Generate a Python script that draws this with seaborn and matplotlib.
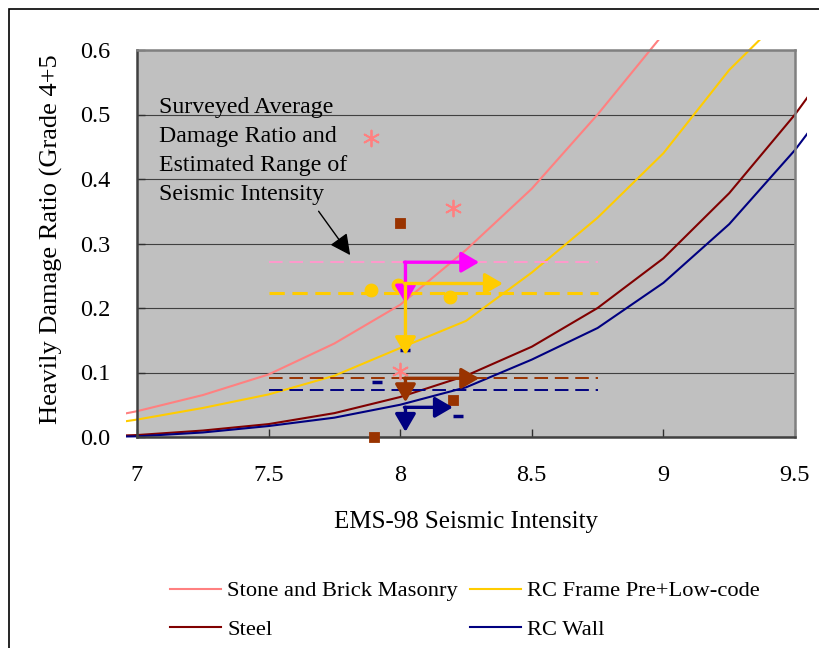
"""
EMS-98 fragility curves vs surveyed damage ratio - recreated chart
"""
import matplotlib
matplotlib.use('Agg')
import matplotlib.pyplot as plt
import seaborn as sns
import pandas as pd
from matplotlib.patches import Rectangle
from matplotlib.transforms import Bbox, TransformedBbox

# ---- data ----
intensity = [6.75, 7.0, 7.25, 7.5, 7.75, 8.0, 8.25, 8.5, 8.75, 9.0, 9.25, 9.5, 9.75]
masonry = [0.020, 0.040, 0.065, 0.097, 0.145, 0.205, 0.290, 0.385, 0.500, 0.625, 0.780, None, None]
rc_frame = [0.012, 0.027, 0.045, 0.066, 0.095, 0.138, 0.180, 0.255, 0.340, 0.440, 0.569, 0.670, None]
steel = [0.000, 0.003, 0.010, 0.020, 0.037, 0.062, 0.095, 0.140, 0.200, 0.277, 0.378, 0.500, 0.640]
rc_wall = [0.000, 0.001, 0.007, 0.017, 0.030, 0.050, 0.077, 0.120, 0.169, 0.239, 0.330, 0.445, 0.580]

curve_names = ['Stone and Brick Masonry', 'RC Frame Pre+Low-code', 'Steel', 'RC Wall']
curve_colors = ['#FF8080', '#FFCC00', '#800000', '#000080']

# surveyed average damage ratio (dashed) over the estimated intensity range
survey_range = [7.5, 8.75]
survey_avg = [0.271, 0.223, 0.091, 0.073]
survey_colors = ['#FF99CC', '#FFCC00', '#993300', '#000080']

# individual survey points
masonry_pts_x = [7.89, 8.20, 8.00]
masonry_pts_y = [0.464, 0.355, 0.102]
steel_pts_x = [8.00, 8.20, 7.90]
steel_pts_y = [0.332, 0.057, 0.000]
frame_pts_x = [7.89, 7.99, 8.19]
frame_pts_y = [0.228, 0.236, 0.217]
wall_pts_x = [7.91, 8.22, 8.02]
wall_pts_y = [0.085, 0.033, 0.135]

# estimated intensity arrows: corner level, right end, lower end
arrow_x0 = 8.02
arrow_level = [0.271, 0.238, 0.091, 0.046]
arrow_right = [8.30, 8.39, 8.30, 8.20]
arrow_down = [0.207, 0.127, 0.054, 0.008]
arrow_colors = ['#FF00FF', '#FFCC00', '#993300', '#000080']

x_ticks = [7, 7.5, 8, 8.5, 9, 9.5]
x_tick_labels = ['7', '7.5', '8', '8.5', '9', '9.5']
y_ticks = [0.0, 0.1, 0.2, 0.3, 0.4, 0.5, 0.6]

note_text = 'Surveyed Average\nDamage Ratio and\nEstimated Range of\nSeismic Intensity'

# ---- figure ----
plt.rcParams['font.family'] = ['Liberation Serif', 'DejaVu Serif']
fig = plt.figure(figsize=(8.2, 6.48), dpi=100)
ax = fig.add_axes([137 / 820, 1 - 437 / 648, 658 / 820, 387 / 648])
ax.set_facecolor('#C0C0C0')

# fragility curves
curves = pd.DataFrame({'x': intensity * 4,
                       'y': masonry + rc_frame + steel + rc_wall,
                       'type': sum([[n] * len(intensity) for n in curve_names], [])}).dropna()
for name, color in zip(curve_names, curve_colors):
    sub = curves[curves['type'] == name]
    sns.lineplot(data=sub, x='x', y='y', color=color, linewidth=1.5, ax=ax,
                 estimator=None, sort=False, legend=False)
curve_lines = list(ax.lines)
clip = TransformedBbox(Bbox([[-0.017, -0.05], [1.018, 1.026]]), ax.transAxes)
for ln in curve_lines:
    ln.set_clip_box(clip)

# dashed surveyed averages
for level, color in zip(survey_avg, survey_colors):
    lw = 2.2 if color == '#FFCC00' else 1.4
    sns.lineplot(x=survey_range, y=[level, level], color=color, linewidth=lw,
                 linestyle=(0, (7, 3.5)) if lw < 2 else (0, (5, 2.5)),
                 estimator=None, sort=False, legend=False, ax=ax)

# survey points
sns.scatterplot(x=masonry_pts_x, y=masonry_pts_y, marker=(6, 2, 0), s=130,
                color='#FF8080', edgecolor='#FF8080', linewidth=1.3, ax=ax, zorder=4)
sns.scatterplot(x=steel_pts_x, y=steel_pts_y, marker='s', s=55,
                color='#993300', edgecolor='#993300', ax=ax, zorder=4, clip_on=False)
sns.scatterplot(x=frame_pts_x, y=frame_pts_y, marker='o', s=85,
                color='#FFCC00', edgecolor='#FFCC00', ax=ax, zorder=4)
sns.scatterplot(x=wall_pts_x, y=wall_pts_y, marker='_', s=60,
                color='#000080', edgecolor='#000080', linewidth=2.5, ax=ax, zorder=4)

# intensity range arrows
astyle = '-|>,head_length=0.6,head_width=0.35'
for lev, xr, yd, color in zip(arrow_level, arrow_right, arrow_down, arrow_colors):
    ax.annotate('', xy=(arrow_x0, yd), xytext=(arrow_x0, lev),
                arrowprops=dict(arrowstyle=astyle, color=color, lw=2.4,
                                mutation_scale=18, shrinkA=0, shrinkB=0), zorder=5)
    ax.annotate('', xy=(xr, lev), xytext=(arrow_x0 - 0.004, lev),
                arrowprops=dict(arrowstyle=astyle, color=color, lw=2.4,
                                mutation_scale=18, shrinkA=0, shrinkB=0), zorder=5)

# note with pointer
ax.text(7.085, 0.527, note_text, fontsize=17.2, va='top', ha='left', linespacing=1.5)
ax.annotate('', xy=(7.81, 0.282), xytext=(7.69, 0.350),
            arrowprops=dict(arrowstyle='-|>,head_length=0.7,head_width=0.35',
                            color='black', lw=1.0, mutation_scale=18,
                            shrinkA=0, shrinkB=0))

# axes styling
ax.set_xlim(7, 9.5)
ax.set_ylim(0, 0.6)
ax.set_xticks(x_ticks)
ax.set_xticklabels(x_tick_labels)
ax.set_yticks(y_ticks)
ax.set_yticklabels([f'{v:.1f}' for v in y_ticks])
ax.tick_params(axis='both', direction='in', length=6, width=1, colors='#303030',
               labelsize=17.5, labelcolor='black')
ax.tick_params(axis='y', pad=19)
ax.tick_params(axis='x', pad=20)
ax.grid(axis='y', color='#404040', linewidth=0.8)
ax.set_axisbelow(True)
for side in ['left', 'bottom']:
    ax.spines[side].set_color('#404040')
    ax.spines[side].set_linewidth(1.8)
for side in ['top', 'right']:
    ax.spines[side].set_color('#808080')
    ax.spines[side].set_linewidth(1.8)

ax.set_xlabel('EMS-98 Seismic Intensity', fontsize=18)
ax.xaxis.set_label_coords(0.5, -0.19)
ax.set_ylabel('Heavily Damage Ratio (Grade 4+5', fontsize=19)
ax.yaxis.set_label_coords(-0.112, 0.51)

# legend filled column by column -> rows read Masonry/RC Frame, Steel/RC Wall
order = [0, 2, 1, 3]
fig.legend([curve_lines[i] for i in order], [curve_names[i] for i in order],
           ncol=2, loc='center', frameon=False,
           bbox_to_anchor=(0.567, 0.058), fontsize=16.2, handlelength=2.25,
           handletextpad=0.27, columnspacing=0.54, labelspacing=0.8,
           borderpad=0, borderaxespad=0)

# chart area border
fig.patches.append(Rectangle((9 / 820, -0.1), 1.2, 1 - 9 / 648 + 0.1,
                             transform=fig.transFigure, fill=False,
                             edgecolor='black', linewidth=1.2, zorder=0))

fig.savefig('out.png', dpi=100, facecolor='white')
